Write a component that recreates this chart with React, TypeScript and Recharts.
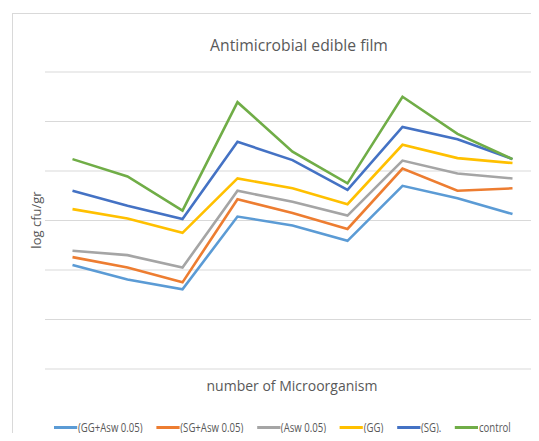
import { CartesianGrid, Line, LineChart, XAxis, YAxis } from "recharts";

const categories = ["1", "2", "3", "4", "5", "6", "7", "8", "9"];
const ggAsw = [2.1, 1.81, 1.61, 3.08, 2.9, 2.59, 3.7, 3.45, 3.13];
const sgAsw = [2.26, 2.05, 1.75, 3.43, 3.15, 2.83, 4.05, 3.6, 3.65];
const asw = [2.39, 2.3, 2.05, 3.6, 3.38, 3.1, 4.21, 3.95, 3.85];
const gg = [3.23, 3.04, 2.75, 3.85, 3.65, 3.33, 4.53, 4.26, 4.16];
const sg = [3.6, 3.3, 3.03, 4.59, 4.22, 3.62, 4.89, 4.64, 4.24];
const control = [4.24, 3.89, 3.2, 5.39, 4.39, 3.75, 5.5, 4.75, 4.24];
const yTicks = [0, 1, 2, 3, 4, 5, 6];

const series = [
  { key: "ggAsw", name: "(GG+Asw 0.05)", values: ggAsw, color: "#5B9BD5" },
  { key: "sgAsw", name: "(SG+Asw 0.05)", values: sgAsw, color: "#ED7D31" },
  { key: "asw", name: "(Asw 0.05)", values: asw, color: "#A5A5A5" },
  { key: "gg", name: "(GG)", values: gg, color: "#FFC000" },
  { key: "sg", name: "(SG).", values: sg, color: "#4472C4" },
  { key: "control", name: "control", values: control, color: "#70AD47" }
];

const data = categories.map((c, i) => {
  const row: Record<string, string | number> = { cat: c };
  series.forEach((s) => (row[s.key] = s.values[i]));
  return row;
});

const font = "'Open Sans', sans-serif";
const textColor = "#595959";

export default function App() {
  return (
    <div style={{ position: "relative", width: 539, height: 441, margin: -8, overflow: "hidden", background: "#fff" }}>
      <div style={{ position: "absolute", left: 12, top: 13, width: 600, height: 500, borderLeft: "1px solid #d9d9d9", borderTop: "1px solid #d9d9d9" }} />
      <div style={{ position: "absolute", left: 0, top: 0 }}>
        <LineChart width={540} height={441} data={data} margin={{ top: 72, right: 0, left: 45, bottom: 72 }}>
          <CartesianGrid vertical={false} stroke="#d9d9d9" />
          <XAxis dataKey="cat" hide padding={{ left: 27.5, right: 27.5 }} />
          <YAxis hide domain={[0, 6]} ticks={yTicks} />
          {series.map((s) => (
            <Line
              key={s.key}
              dataKey={s.key}
              name={s.name}
              stroke={s.color}
              strokeWidth={2.6}
              dot={false}
              type="linear"
              isAnimationActive={false}
            />
          ))}
        </LineChart>
      </div>
      <div style={{ position: "absolute", left: 0, width: 598, top: 34, textAlign: "center", fontFamily: font, fontSize: 15.7, color: textColor }}>
        Antimicrobial edible film
      </div>
      <div style={{ position: "absolute", left: 36, top: 220, transform: "translate(-50%, -50%) rotate(-90deg)", fontFamily: font, fontSize: 13, color: textColor, whiteSpace: "nowrap" }}>
        log cfu/gr
      </div>
      <div style={{ position: "absolute", left: 0, width: 584, top: 376, textAlign: "center", fontFamily: font, fontSize: 14, color: textColor }}>
        number of Microorganism
      </div>
      <div style={{ position: "absolute", left: 54, top: 419, display: "flex", gap: 17, transform: "scaleX(0.8)", transformOrigin: "left center", fontFamily: font, fontSize: 12, color: textColor, whiteSpace: "nowrap" }}>
        {series.map((s) => (
          <span key={s.key} style={{ display: "flex", alignItems: "center" }}>
            <span style={{ display: "inline-block", width: 29, height: 3, background: s.color, marginRight: 1 }} />
            {s.name}
          </span>
        ))}
      </div>
    </div>
  );
}
